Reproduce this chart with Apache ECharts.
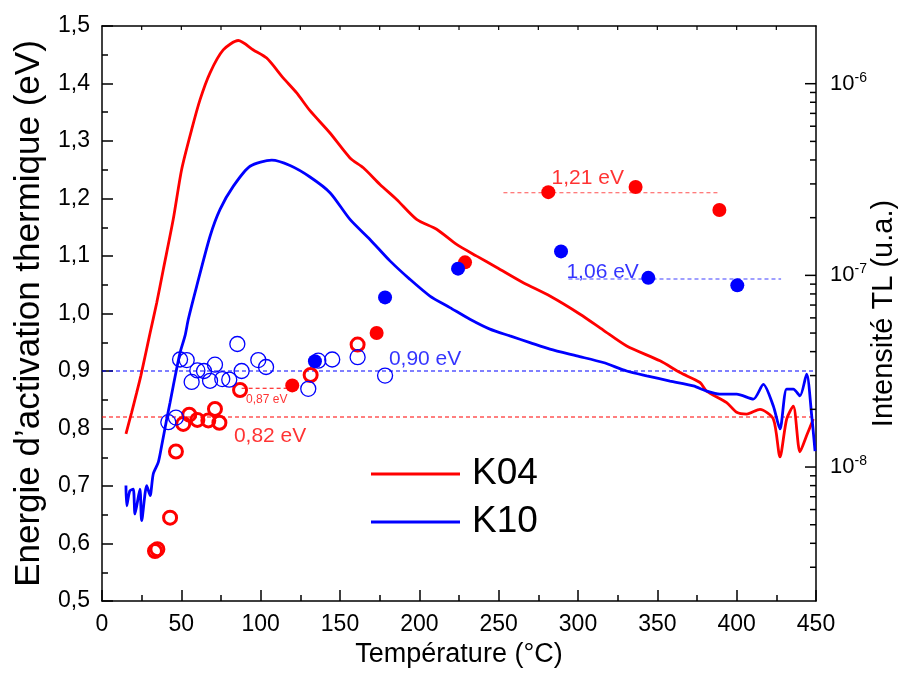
<!DOCTYPE html>
<html><head><meta charset="utf-8">
<script src="https://cdn.jsdelivr.net/npm/echarts@6/dist/echarts.min.js"></script>
<style>html,body{margin:0;padding:0;background:#fff}#c{width:903px;height:673px}</style>
</head><body><div id="c"></div>
<script>
// ---- Data ----
const xTicks = [0, 50, 100, 150, 200, 250, 300, 350, 400, 450];
const rightMajorExp = [-8, -7, -6];

// TL curves (temperature °C, intensity a.u.)
const k04T = [15.1,18.7,21.9,24.5,27.5,30.3,34.5,38.6,44.9,50.2,56.5,61.8,68.1,76.4,85.9,95.4,103.8,114.3,122.7,131.1,143.7,156.3,164.7,175.2,185.7,198.3,210.9,223.5,236.2,248.8,265.5,282.3,301.3,315.9,330.7,351.7,364.3,376.9,381.1,393.7,400.0,406.3,414.7,423.1,427.3,431.5,435.7,439.9,444.1,448.3];
const k04I = [1.49e-8,1.93e-8,2.45e-8,3.0e-8,3.9e-8,5.0e-8,7.2e-8,1.07e-7,1.96e-7,3.57e-7,5.76e-7,8.26e-7,1.14e-6,1.50e-6,1.68e-6,1.50e-6,1.36e-6,1.07e-6,8.95e-7,7.23e-7,5.53e-7,4.10e-7,3.64e-7,2.98e-7,2.49e-7,1.96e-7,1.74e-7,1.45e-7,1.26e-7,1.10e-7,9.16e-8,7.80e-8,6.27e-8,5.18e-8,4.28e-8,3.58e-8,3.11e-8,2.76e-8,2.49e-8,2.17e-8,1.93e-8,1.89e-8,2.00e-8,1.78e-8,1.13e-8,1.78e-8,2.08e-8,1.20e-8,1.46e-8,1.78e-8];
const k10T = [15.1,15.6,17.5,19.7,20.8,23.9,25.0,28.2,30.3,32.3,35.5,37.6,40.8,42.9,44.9,49.2,52.3,54.4,59.7,68.1,74.4,82.8,93.3,107.0,118.5,131.1,143.7,156.3,168.9,181.5,194.1,206.7,219.3,231.9,244.5,257.1,269.7,282.3,299.2,315.9,330.7,343.3,358.0,372.7,381.1,389.5,400.0,410.5,416.8,423.1,427.3,431.5,435.7,439.9,444.1,447.3,449.4];
const k10I = [8.0e-9,6.28e-9,7.5e-9,7.67e-9,5.69e-9,7.67e-9,5.25e-9,8.0e-9,7.10e-9,9.2e-9,1.06e-8,1.29e-8,1.78e-8,2.17e-8,2.65e-8,3.95e-8,4.83e-8,5.90e-8,8.79e-8,1.60e-7,2.21e-7,2.92e-7,3.71e-7,3.99e-7,3.74e-7,3.26e-7,2.70e-7,1.96e-7,1.54e-7,1.19e-7,9.53e-8,7.80e-8,6.79e-8,5.90e-8,5.24e-8,4.83e-8,4.46e-8,4.12e-8,3.80e-8,3.51e-8,3.17e-8,2.99e-8,2.81e-8,2.65e-8,2.49e-8,2.40e-8,2.40e-8,2.26e-8,2.70e-8,2.08e-8,1.58e-8,2.55e-8,2.55e-8,2.35e-8,3.05e-8,1.85e-8,1.21e-8];

// Activation energies (temperature °C, eV)
const k04OpenT = [33.4,34.9,42.9,46.6,51.2,55.0,60.1,67.0,71.2,74.0,87.0,131.5,161.1];
const k04OpenE = [0.587,0.590,0.645,0.760,0.808,0.824,0.815,0.814,0.834,0.810,0.867,0.893,0.946];
const k04FullT = [119.9,173.1,228.8,281.3,336.3,389.1];
const k04FullE = [0.875,0.966,1.089,1.211,1.220,1.180];
const k10OpenT = [41.8,46.6,49.2,53.4,56.5,60.1,64.3,68.1,71.2,75.8,80.2,85.3,88.0,98.5,103.4,130.0,136.3,145.1,161.1,178.4];
const k10OpenE = [0.811,0.819,0.920,0.919,0.881,0.901,0.900,0.883,0.911,0.886,0.885,0.947,0.900,0.919,0.907,0.869,0.918,0.920,0.924,0.892];
const k10FullT = [134.2,178.4,224.4,289.3,344.3,400.4];
const k10FullE = [0.917,1.028,1.078,1.108,1.062,1.049];

// Reference levels
const refE = [0.90, 0.82, 0.87, 1.21, 1.06];
const refT0 = [0, 0, 88, 253, 294];
const refT1 = [450, 450, 122, 388, 428];
const refColor = ['#0000ff', '#ff0000', '#ff0000', '#ff5050', '#4040ff'];

// Annotations
const annText = ['0,90 eV','0,82 eV','0,87 eV','1,21 eV','1,06 eV'];
const annT = [180.5, 82.8, 90.5, 283.0, 292.4];
const annE = [0.920, 0.786, 0.850, 1.235, 1.072];
const annColor = ['#0000ff','#ff0000','#ff0000','#ff0000','#0000ff'];
const annSize = [21, 21, 12, 21, 21];

// ---- Chart ----
const FONT = 'Arial, "Liberation Sans", sans-serif';
const zip = (a, b) => a.map((v, i) => [v, b[i]]);
const GRID = {left:102, top:26, width:714, height:575};
const LOG_MIN = 2e-9, LOG_MAX = 2e-6;

const chart = echarts.init(document.getElementById('c'), null, {renderer:'canvas'});
const axisLineStyle = {color:'#000', width:1.5};
const tickStyle = {color:'#000', width:1.5};

const series = [
  {name:'K04', type:'line', xAxisIndex:0, yAxisIndex:1, data:zip(k04T,k04I), symbol:'none', smooth:0.25,
   lineStyle:{color:'#ff0000', width:2.8}, itemStyle:{color:'#ff0000'}, z:3},
  {name:'K10', type:'line', xAxisIndex:0, yAxisIndex:1, data:zip(k10T,k10I), symbol:'none', smooth:0.25,
   lineStyle:{color:'#0000ff', width:2.8}, itemStyle:{color:'#0000ff'}, z:3},
];
refE.forEach((E, i) => series.push({
  type:'line', xAxisIndex:0, yAxisIndex:0, data:[[refT0[i],E],[refT1[i],E]], symbol:'none', silent:true,
  lineStyle:{color:refColor[i], width:1.2, type:[4,3]}, z:2
}));
series.push(
  {type:'scatter', xAxisIndex:0, yAxisIndex:0, data:zip(k04OpenT,k04OpenE), symbol:'circle', symbolSize:13,
   itemStyle:{color:'rgba(255,255,255,0)', borderColor:'#ff0000', borderWidth:3, opacity:1}, z:4},
  {type:'scatter', xAxisIndex:0, yAxisIndex:0, data:zip(k10OpenT,k10OpenE), symbol:'circle', symbolSize:15,
   itemStyle:{color:'rgba(255,255,255,0)', borderColor:'#0000ff', borderWidth:1.3, opacity:1}, z:4},
  {type:'scatter', xAxisIndex:0, yAxisIndex:0, data:zip(k04FullT,k04FullE), symbol:'circle', symbolSize:14,
   itemStyle:{color:'#ff0000', opacity:1}, z:5},
  {type:'scatter', xAxisIndex:0, yAxisIndex:0, data:zip(k10FullT,k10FullE), symbol:'circle', symbolSize:14,
   itemStyle:{color:'#0000ff', opacity:1}, z:5}
);
annText.forEach((t, i) => series.push({
  type:'scatter', xAxisIndex:0, yAxisIndex:0, data:[[annT[i], annE[i]]], symbolSize:1, silent:true,
  itemStyle:{color:'rgba(0,0,0,0)'},
  label:{show:true, position:'right', distance:0, formatter:t, color:annColor[i], fontSize:annSize[i], fontFamily:FONT},
  labelLayout:{hideOverlap:false},
  z:6
}));

const logLabel = v => {
  const l = Math.log10(v), r = Math.round(l);
  if (Math.abs(l - r) > 1e-6 || rightMajorExp.indexOf(r) < 0) return '';
  return '10{s|' + r + '}';
};

chart.setOption({
  animation:false,
  backgroundColor:'#fff',
  grid:Object.assign({containLabel:false, outerBoundsMode:'none'}, GRID),
  legend:{
    data:[{name:'K04', icon:'rect'}, {name:'K10', icon:'rect'}],
    orient:'vertical', left:371, top:454, padding:0, itemGap:8,
    itemWidth:89, itemHeight:3,
    textStyle:{fontSize:37, color:'#000', fontFamily:FONT, lineHeight:40, padding:[0,0,0,7]}
  },
  xAxis:[
    {type:'value', min:0, max:450, interval:50, position:'bottom',
     name:'Température (°C)', nameLocation:'middle', nameGap:40,
     nameTextStyle:{fontSize:27, color:'#000', fontFamily:FONT},
     axisLine:{show:true, onZero:false, lineStyle:axisLineStyle},
     axisTick:{show:true, inside:true, length:11, lineStyle:tickStyle},
     minorTick:{show:true, splitNumber:2, length:6, lineStyle:tickStyle},
     axisLabel:{fontSize:23, color:'#000', fontFamily:FONT, margin:12},
     splitLine:{show:false}},
    {type:'value', min:0, max:450, interval:50, position:'top',
     axisLine:{show:true, onZero:false, lineStyle:axisLineStyle},
     axisTick:{show:false}, axisLabel:{show:false}, splitLine:{show:false}}
  ],
  yAxis:[
    {type:'value', min:0.5, max:1.5, interval:0.1, position:'left',
     name:'Energie d’activation thermique (eV)', nameLocation:'middle', nameGap:55, nameRotate:90,
     nameTextStyle:{fontSize:35, color:'#000', fontFamily:FONT},
     axisLine:{show:true, onZero:false, lineStyle:axisLineStyle},
     axisTick:{show:true, inside:true, length:11, lineStyle:tickStyle},
     minorTick:{show:true, splitNumber:2, length:6, lineStyle:tickStyle},
     axisLabel:{fontSize:23, color:'#000', fontFamily:FONT, margin:12,
       formatter:v => v.toFixed(1).replace('.', ',')},
     splitLine:{show:false}},
    {type:'log', min:LOG_MIN, max:LOG_MAX, position:'right', logBase:10,
     name:'Intensité TL (u.a.)', nameLocation:'middle', nameGap:53, nameRotate:90, nameMoveOverlap:false,
     nameTextStyle:{fontSize:29, color:'#000', fontFamily:FONT},
     axisLine:{show:true, onZero:false, lineStyle:axisLineStyle},
     axisTick:{show:false}, minorTick:{show:false},
     axisLabel:{show:true, margin:14, color:'#000', fontFamily:FONT, fontSize:22, formatter:logLabel,
       rich:{s:{fontSize:14, color:'#000', fontFamily:FONT, padding:[0,0,12,0]}}},
     splitLine:{show:false}}
  ],
  series:series
});

// Tick marks on the right (log) and top borders, positioned through the axes' own scales
const ticks = [];
const xRight = chart.convertToPixel({xAxisIndex:0}, 450);
const yTop = chart.convertToPixel({yAxisIndex:0}, 1.5);
for (let e = -9; e <= -6; e++) {
  for (let m = 1; m <= 9; m++) {
    const v = m * Math.pow(10, e);
    if (v <= LOG_MIN * 1.001 || v >= LOG_MAX * 0.999) continue;
    const y = chart.convertToPixel({yAxisIndex:1}, v);
    const len = m === 1 ? 11 : 6;
    ticks.push({type:'line', silent:true, z:10,
      shape:{x1:xRight - len, y1:y, x2:xRight, y2:y}, style:{stroke:'#000', lineWidth:1.5}});
  }
}
for (let t = 25; t < 450; t += 25) {
  const x = chart.convertToPixel({xAxisIndex:0}, t);
  ticks.push({type:'line', silent:true, z:10,
    shape:{x1:x, y1:yTop, x2:x, y2:yTop + 4}, style:{stroke:'#000', lineWidth:1.2}});
}
chart.setOption({graphic:{elements:ticks}});
</script></body></html>
